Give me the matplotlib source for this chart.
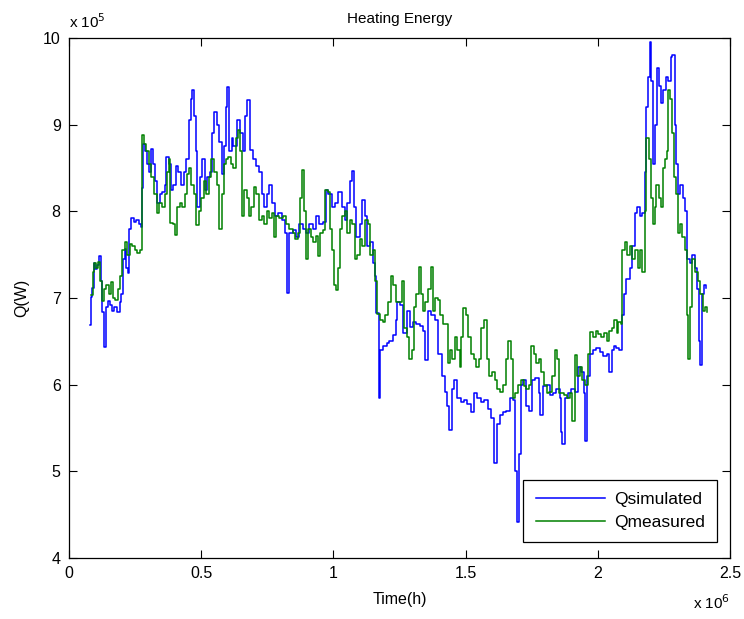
import matplotlib
matplotlib.use("Agg")
import matplotlib.pyplot as plt
from matplotlib.ticker import FixedLocator
import numpy as np

plt.rcParams['font.family'] = ['Liberation Sans', 'DejaVu Sans']

# ---- data (time in 1e6 h, energy in 1e5 W) ----
sim_t = [0.081, 0.083, 0.088, 0.093, 0.100, 0.107, 0.113, 0.120, 0.124, 0.132, 0.139, 0.147, 0.156, 0.164,
         0.172, 0.181, 0.191, 0.198, 0.204, 0.210, 0.217, 0.223, 0.228, 0.236, 0.246, 0.255, 0.263, 0.271,
         0.276, 0.281, 0.289, 0.296, 0.304, 0.311, 0.319, 0.326, 0.334, 0.343, 0.353, 0.362, 0.368, 0.377,
         0.384, 0.394, 0.406, 0.414, 0.425, 0.435, 0.444, 0.452, 0.460, 0.465, 0.472, 0.479, 0.485, 0.494,
         0.503, 0.513, 0.523, 0.533, 0.542, 0.550, 0.560, 0.569, 0.578, 0.585, 0.592, 0.597, 0.606, 0.615,
         0.621, 0.634, 0.646, 0.657, 0.665, 0.674, 0.684, 0.695, 0.707, 0.720, 0.729, 0.739, 0.750, 0.757,
         0.766, 0.779, 0.791, 0.804, 0.817, 0.826, 0.833, 0.846, 0.859, 0.871, 0.884, 0.896, 0.909, 0.921,
         0.934, 0.946, 0.959, 0.971, 0.981, 0.993, 1.006, 1.018, 1.031, 1.043, 1.052, 1.062, 1.070, 1.077,
         1.087, 1.100, 1.110, 1.119, 1.128, 1.138, 1.148, 1.157, 1.163, 1.172, 1.178, 1.188, 1.201, 1.211,
         1.224, 1.236, 1.239, 1.252, 1.264, 1.277, 1.289, 1.302, 1.314, 1.327, 1.339, 1.348, 1.358, 1.371,
         1.384, 1.396, 1.409, 1.421, 1.430, 1.436, 1.447, 1.457, 1.469, 1.482, 1.494, 1.507, 1.520, 1.532,
         1.545, 1.558, 1.570, 1.583, 1.595, 1.607, 1.617, 1.629, 1.642, 1.654, 1.667, 1.680, 1.688, 1.694,
         1.701, 1.709, 1.717, 1.728, 1.739, 1.752, 1.764, 1.777, 1.783, 1.793, 1.806, 1.818, 1.831, 1.843,
         1.856, 1.860, 1.866, 1.875, 1.888, 1.900, 1.913, 1.926, 1.938, 1.947, 1.953, 1.961, 1.970, 1.982,
         1.995, 2.008, 2.020, 2.033, 2.042, 2.052, 2.060, 2.070, 2.080, 2.091, 2.098, 2.108, 2.121, 2.131,
         2.139, 2.149, 2.159, 2.169, 2.178, 2.184, 2.190, 2.197, 2.203, 2.210, 2.216, 2.225, 2.232, 2.240,
         2.248, 2.258, 2.266, 2.275, 2.282, 2.291, 2.297, 2.305, 2.312, 2.322, 2.330, 2.337, 2.347, 2.357,
         2.366, 2.375, 2.383, 2.386, 2.393, 2.400, 2.411]
sim_q = [6.69, 7.01, 7.12, 7.40, 7.33, 7.38, 7.49, 7.20, 6.84, 6.44, 6.90, 6.97, 6.92, 6.85,
         6.90, 6.84, 6.95, 7.05, 7.45, 7.56, 7.35, 7.29, 7.80, 7.92, 7.88, 7.90, 7.85, 7.82,
         8.27, 8.78, 8.70, 8.55, 8.45, 8.72, 8.55, 8.35, 8.10, 8.20, 8.22, 8.30, 8.63, 8.55,
         8.25, 8.30, 8.52, 8.45, 8.30, 8.45, 8.60, 9.05, 9.30, 9.40, 9.10, 8.70, 8.05, 8.40,
         8.60, 8.25, 8.40, 8.45, 8.90, 9.15, 9.00, 8.80, 8.43, 8.75, 9.20, 9.43, 8.70, 8.85,
         8.75, 9.05, 8.90, 8.70, 9.10, 9.28, 8.71, 8.60, 8.52, 8.45, 8.20, 8.05, 8.20, 8.30,
         8.10, 7.95, 7.98, 7.90, 7.75, 7.06, 7.75, 7.78, 7.70, 7.85, 7.80, 7.75, 7.85, 7.80,
         7.95, 7.85, 7.88, 8.25, 8.20, 8.05, 8.10, 8.22, 8.05, 7.90, 8.10, 8.35, 8.46, 8.05,
         7.70, 7.85, 8.13, 7.95, 7.60, 7.65, 7.40, 7.25, 6.83, 5.85, 6.40, 6.45, 6.48, 6.50,
         6.57, 6.75, 6.95, 6.92, 6.60, 6.85, 6.66, 6.72, 6.70, 6.68, 6.62, 6.28, 6.85, 6.80,
         6.75, 6.35, 6.10, 5.92, 5.75, 5.48, 5.95, 6.05, 5.85, 5.80, 5.82, 5.78, 5.68, 5.90,
         5.85, 5.80, 5.82, 5.72, 5.62, 5.10, 5.55, 5.65, 5.68, 5.70, 5.85, 5.82, 5.00, 4.42,
         5.20, 6.00, 6.05, 5.75, 5.70, 6.05, 6.08, 5.90, 5.65, 5.98, 6.00, 5.88, 5.90, 5.95,
         5.85, 5.45, 5.31, 5.85, 5.90, 5.95, 5.92, 6.20, 6.15, 5.90, 5.35, 6.10, 6.35, 6.40,
         6.42, 6.38, 6.33, 6.35, 6.15, 6.40, 6.45, 6.42, 6.40, 6.80, 7.05, 7.22, 7.35, 7.60,
         7.98, 8.05, 7.95, 7.98, 8.45, 9.20, 9.55, 9.95, 9.50, 8.55, 9.00, 9.65, 9.45, 9.25,
         9.40, 9.55, 9.50, 9.78, 9.80, 9.00, 8.55, 8.20, 8.30, 8.15, 8.00, 7.45, 7.40, 7.50,
         7.35, 7.10, 6.50, 6.23, 7.05, 7.15, 7.12]

meas_t = [0.082, 0.090, 0.095, 0.103, 0.110, 0.118, 0.125, 0.132, 0.141, 0.150, 0.157, 0.165, 0.174, 0.185,
          0.194, 0.202, 0.210, 0.219, 0.229, 0.238, 0.248, 0.258, 0.267, 0.276, 0.283, 0.292, 0.301, 0.311,
          0.321, 0.331, 0.341, 0.351, 0.362, 0.369, 0.377, 0.382, 0.392, 0.400, 0.409, 0.418, 0.428, 0.438,
          0.446, 0.453, 0.463, 0.473, 0.482, 0.491, 0.501, 0.511, 0.520, 0.530, 0.538, 0.548, 0.558, 0.569,
          0.578, 0.585, 0.594, 0.603, 0.613, 0.621, 0.630, 0.639, 0.646, 0.653, 0.662, 0.672, 0.681, 0.690,
          0.700, 0.709, 0.720, 0.729, 0.737, 0.747, 0.757, 0.766, 0.774, 0.783, 0.795, 0.808, 0.820, 0.833,
          0.846, 0.856, 0.865, 0.873, 0.881, 0.888, 0.896, 0.903, 0.914, 0.924, 0.934, 0.943, 0.951, 0.961,
          0.970, 0.979, 0.987, 0.994, 1.001, 1.009, 1.016, 1.024, 1.034, 1.043, 1.052, 1.062, 1.072, 1.082,
          1.090, 1.100, 1.110, 1.120, 1.130, 1.140, 1.151, 1.158, 1.166, 1.176, 1.186, 1.196, 1.206, 1.216,
          1.226, 1.236, 1.246, 1.258, 1.268, 1.277, 1.287, 1.296, 1.304, 1.313, 1.323, 1.331, 1.339, 1.348,
          1.358, 1.368, 1.376, 1.384, 1.394, 1.404, 1.414, 1.424, 1.434, 1.442, 1.449, 1.459, 1.469, 1.477,
          1.484, 1.492, 1.501, 1.510, 1.520, 1.530, 1.540, 1.550, 1.560, 1.570, 1.580, 1.590, 1.600, 1.610,
          1.620, 1.630, 1.641, 1.651, 1.661, 1.671, 1.680, 1.688, 1.698, 1.709, 1.719, 1.729, 1.739, 1.749,
          1.758, 1.767, 1.777, 1.787, 1.797, 1.807, 1.817, 1.827, 1.837, 1.844, 1.855, 1.871, 1.884, 1.894,
          1.904, 1.913, 1.922, 1.932, 1.942, 1.953, 1.963, 1.972, 1.982, 1.992, 2.002, 2.012, 2.023, 2.033,
          2.043, 2.053, 2.063, 2.071, 2.078, 2.086, 2.092, 2.101, 2.111, 2.121, 2.131, 2.141, 2.151, 2.161,
          2.169, 2.177, 2.184, 2.192, 2.200, 2.207, 2.215, 2.222, 2.230, 2.238, 2.245, 2.253, 2.260, 2.266,
          2.272, 2.280, 2.287, 2.295, 2.302, 2.310, 2.320, 2.330, 2.337, 2.342, 2.347, 2.357, 2.368, 2.378,
          2.388, 2.398, 2.405, 2.412]
meas_q = [7.04, 7.30, 7.40, 7.35, 7.42, 7.20, 6.96, 7.10, 7.15, 7.05, 7.18, 7.00, 6.98, 7.10,
          7.25, 7.55, 7.65, 7.50, 7.62, 7.60, 7.55, 7.52, 7.55, 8.88, 8.78, 8.70, 8.55, 8.40,
          8.20, 7.98, 8.10, 8.05, 8.20, 8.45, 8.60, 7.87, 7.85, 7.73, 8.05, 8.10, 8.05, 8.20,
          8.43, 8.50, 8.30, 8.20, 7.84, 8.00, 8.15, 8.35, 8.20, 8.40, 8.60, 8.45, 8.30, 7.80,
          8.20, 8.55, 8.60, 8.63, 8.55, 8.50, 8.85, 8.94, 8.70, 7.95, 8.25, 8.15, 7.95, 8.05,
          8.28, 8.20, 7.90, 7.95, 7.85, 8.00, 7.92, 7.98, 7.70, 7.95, 7.92, 7.95, 7.85, 7.80,
          7.75, 7.68, 7.75, 8.15, 8.48, 8.00, 7.45, 7.80, 7.70, 7.65, 7.72, 7.48, 7.75, 7.78,
          8.25, 8.22, 7.80, 7.55, 7.15, 7.09, 7.35, 7.80, 7.95, 8.00, 7.75, 7.90, 7.85, 7.45,
          7.50, 7.68, 7.60, 7.90, 7.85, 7.50, 7.55, 7.20, 6.82, 6.75, 6.72, 6.80, 6.95, 7.25,
          7.15, 6.95, 6.95, 7.20, 6.65, 6.55, 6.30, 6.40, 6.90, 7.05, 7.36, 7.05, 6.85, 6.95,
          7.10, 7.36, 6.85, 7.00, 6.98, 6.80, 6.70, 6.70, 6.25, 6.40, 6.30, 6.55, 6.40, 6.20,
          6.55, 6.88, 6.80, 6.55, 6.35, 6.30, 6.20, 6.30, 6.65, 6.75, 6.30, 6.10, 6.15, 6.05,
          5.95, 5.92, 6.00, 6.30, 6.50, 6.30, 5.85, 5.90, 6.00, 6.05, 5.98, 5.95, 6.00, 6.45,
          6.35, 6.25, 6.30, 6.15, 6.00, 5.90, 5.92, 6.10, 6.40, 6.30, 5.90, 5.88, 5.85, 5.90,
          5.58, 6.34, 6.10, 6.20, 6.05, 6.00, 6.35, 6.61, 6.55, 6.62, 6.58, 6.55, 6.60, 6.50,
          6.62, 6.65, 6.75, 6.60, 6.72, 6.70, 7.55, 7.65, 7.50, 7.60, 7.45, 7.55, 7.35, 7.55,
          7.30, 8.00, 8.85, 8.60, 8.15, 7.85, 8.05, 8.30, 8.15, 8.05, 8.50, 8.60, 8.70, 9.40,
          9.30, 8.90, 8.40, 8.20, 7.75, 7.85, 7.70, 7.55, 6.80, 6.30, 6.90, 7.45, 7.30, 7.20,
          7.05, 6.85, 6.90, 6.84]

x_ticks = [0, 0.5, 1, 1.5, 2, 2.5]
y_ticks = [4, 5, 6, 7, 8, 9, 10]
x_tick_labels = ['0', '0.5', '1', '1.5', '2', '2.5']
y_tick_labels = ['4', '5', '6', '7', '8', '9', '10']
series_names = ['Qsimulated', 'Qmeasured']

XS = 1e6
YS = 1e5

fig = plt.figure(figsize=(7.44, 6.19), dpi=100)
ax = fig.add_axes([69/744, 1 - 558/619, (730-69)/744, (558-38)/619])

ax.plot(np.array(sim_t) * XS, np.array(sim_q) * YS, color=(0, 0, 1), lw=1.1,
        drawstyle='steps-post', label=series_names[0])
ax.plot(np.array(meas_t) * XS, np.array(meas_q) * YS, color=(0, 0.5, 0), lw=1.1,
        drawstyle='steps-post', label=series_names[1])

ax.set_xlim(0, 2.5 * XS)
ax.set_ylim(4 * YS, 10 * YS)
ax.xaxis.set_major_locator(FixedLocator([v * XS for v in x_ticks]))
ax.yaxis.set_major_locator(FixedLocator([v * YS for v in y_ticks]))
ax.set_xticklabels(x_tick_labels)
ax.set_yticklabels(y_tick_labels)

ax.tick_params(direction='in', length=6, width=0.8, top=True, right=True,
               labelsize=11.5, pad=6)
for s in ax.spines.values():
    s.set_linewidth(0.9)

ax.set_title('Heating Energy', fontsize=11, pad=11)
ax.set_xlabel('Time(h)', fontsize=11.5, labelpad=8)
ax.set_ylabel('Q(W)', fontsize=11.5, labelpad=10)

ax.text(0.0, 1.014, r'x 10$^5$', transform=ax.transAxes, fontsize=11, ha='left', va='bottom')
ax.text(1.0, -0.068, r'x 10$^6$', transform=ax.transAxes, fontsize=11, ha='right', va='top')

leg = ax.legend(loc='lower right', bbox_to_anchor=(0.98, 0.03), borderaxespad=0,
                fancybox=False, edgecolor='black', framealpha=1, fontsize=12.5,
                handlelength=4.0, handletextpad=0.5, borderpad=0.7, labelspacing=0.45)
leg.get_frame().set_linewidth(0.9)

fig.savefig('out.png', dpi=100)
